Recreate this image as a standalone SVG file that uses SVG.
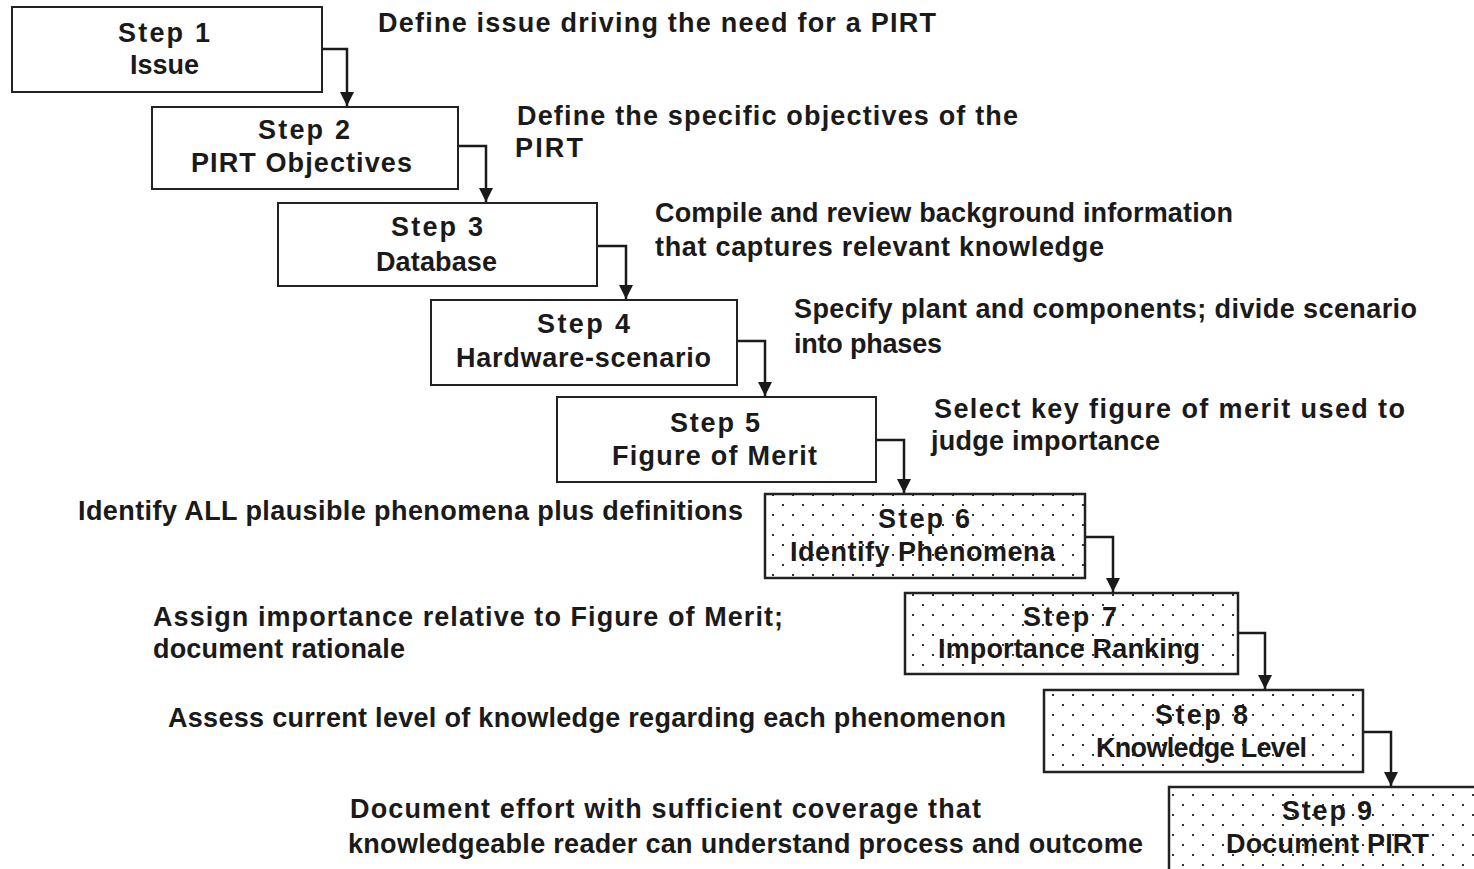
<svg xmlns="http://www.w3.org/2000/svg" width="1474" height="869" viewBox="0 0 1474 869">
<style>
.box{fill:#fff;stroke:#222;stroke-width:2}
.dot{fill:url(#dots);stroke:#222;stroke-width:2.5}
.t{font-family:"Liberation Sans",Arial,sans-serif;font-weight:bold;font-size:27px;fill:#1a1a1a}
.c{stroke:#1a1a1a;stroke-width:2.5;fill:none}
</style>
<defs>
<pattern id="dots" patternUnits="userSpaceOnUse" width="20" height="20" x="2" y="4">
<rect width="20" height="20" fill="#fff"/>
<rect x="0" y="0" width="2" height="2" fill="#333"/>
<rect x="10" y="10" width="2" height="2" fill="#333"/>
</pattern>
<marker id="ah" markerUnits="userSpaceOnUse" markerWidth="14" markerHeight="14" refX="14" refY="7" orient="auto" viewBox="0 0 14 14">
<path d="M0,0 L14,7 L0,14 Z" fill="#1a1a1a"/>
</marker>
</defs>
<g id="connectors">
<path class="c" d="M322,49 H347 V106" marker-end="url(#ah)"/>
<path class="c" d="M458,146 H486 V202" marker-end="url(#ah)"/>
<path class="c" d="M597,246 H626 V299" marker-end="url(#ah)"/>
<path class="c" d="M737,341 H765 V396" marker-end="url(#ah)"/>
<path class="c" d="M876,440 H904 V493" marker-end="url(#ah)"/>
<path class="c" d="M1085,537 H1113 V592" marker-end="url(#ah)"/>
<path class="c" d="M1238,633 H1265 V689" marker-end="url(#ah)"/>
<path class="c" d="M1363,732 H1391 V786" marker-end="url(#ah)"/>
</g>
<g id="step1"><rect class="box" x="12" y="7" width="310" height="85"/>
<text class="t" x="118" y="42" textLength="92">Step 1</text>
<text class="t" x="130" y="74" textLength="69">Issue</text></g>
<g id="step2"><rect class="box" x="152" y="107" width="306" height="82"/>
<text class="t" x="258" y="139" textLength="92">Step 2</text>
<text class="t" x="191" y="172" textLength="221">PIRT Objectives</text></g>
<g id="step3"><rect class="box" x="278" y="203" width="319" height="83"/>
<text class="t" x="391" y="236" textLength="92">Step 3</text>
<text class="t" x="376" y="271" textLength="121">Database</text></g>
<g id="step4"><rect class="box" x="431" y="300" width="306" height="85"/>
<text class="t" x="537" y="333" textLength="93">Step 4</text>
<text class="t" x="456" y="367" textLength="255">Hardware-scenario</text></g>
<g id="step5"><rect class="box" x="557" y="397" width="319" height="85"/>
<text class="t" x="670" y="432" textLength="90">Step 5</text>
<text class="t" x="612" y="465" textLength="205">Figure of Merit</text></g>
<g id="step6"><rect class="dot" x="765" y="494" width="320" height="84"/>
<text class="t" x="878" y="528" textLength="92">Step 6</text>
<text class="t" x="790" y="561" textLength="265">Identify Phenomena</text></g>
<g id="step7"><rect class="dot" x="905" y="593" width="333" height="81"/>
<text class="t" x="1023" y="626" textLength="94">Step 7</text>
<text class="t" x="938" y="658" textLength="262">Importance Ranking</text></g>
<g id="step8"><rect class="dot" x="1044" y="690" width="319" height="82"/>
<text class="t" x="1155" y="724" textLength="93">Step 8</text>
<text class="t" x="1096" y="757" textLength="211">Knowledge Level</text></g>
<g id="step9"><rect class="dot" x="1169" y="787" width="330" height="100"/>
<text class="t" x="1282" y="820" textLength="90">Step 9</text>
<text class="t" x="1226" y="853" textLength="203">Document PIRT</text></g>
<g id="descriptions">
<text class="t" x="378" y="32" textLength="558">Define issue driving the need for a PIRT</text>
<text class="t" x="517" y="125" textLength="501">Define the specific objectives of the</text>
<text class="t" x="515" y="157" textLength="68">PIRT</text>
<text class="t" x="655" y="222" textLength="578">Compile and review background information</text>
<text class="t" x="655" y="256" textLength="449">that captures relevant knowledge</text>
<text class="t" x="794" y="318" textLength="623">Specify plant and components; divide scenario</text>
<text class="t" x="794" y="353" textLength="148">into phases</text>
<text class="t" x="934" y="418" textLength="471">Select key figure of merit used to</text>
<text class="t" x="931" y="450" textLength="229">judge importance</text>
<text class="t" x="78" y="520" textLength="665">Identify ALL plausible phenomena plus definitions</text>
<text class="t" x="153" y="626" textLength="630">Assign importance relative to Figure of Merit;</text>
<text class="t" x="153" y="658" textLength="252">document rationale</text>
<text class="t" x="168" y="727" textLength="838">Assess current level of knowledge regarding each phenomenon</text>
<text class="t" x="350" y="818" textLength="631">Document effort with sufficient coverage that</text>
<text class="t" x="348" y="853" textLength="795">knowledgeable reader can understand process and outcome</text>
</g>
</svg>
